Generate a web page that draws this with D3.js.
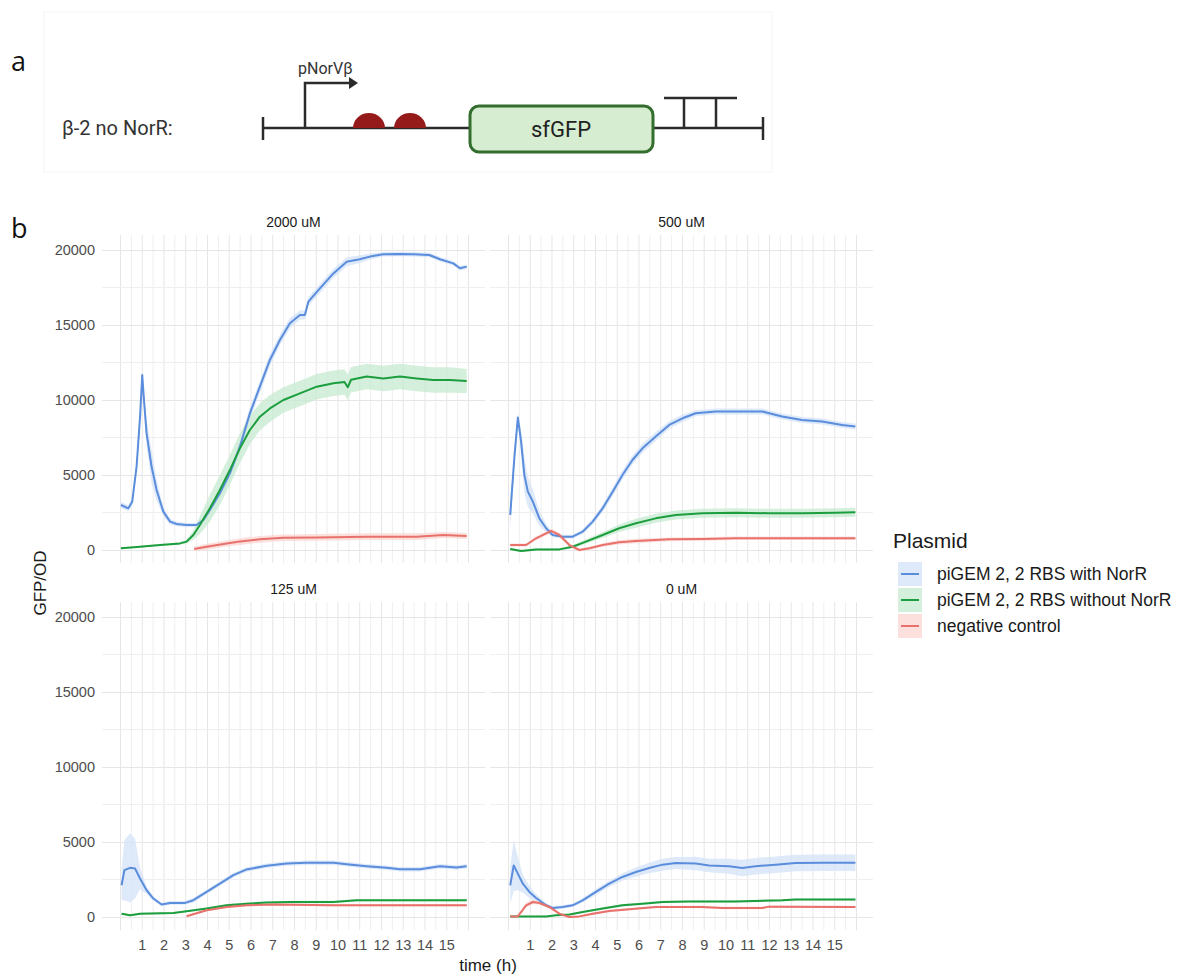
<!DOCTYPE html>
<html>
<head>
<meta charset="utf-8">
<script src="https://cdn.jsdelivr.net/npm/d3@7"></script>
<style>
  body { margin: 0; background: #fff; }
  svg text { font-family: "Liberation Sans", Arial, sans-serif; }
</style>
</head>
<body>
<div id="chart"></div>
<script>
// Panels (facets) and plasmid series
var panelNames = ["2000 uM", "500 uM", "125 uM", "0 uM"];
var plasmids = ["piGEM 2, 2 RBS with NorR", "piGEM 2, 2 RBS without NorR", "negative control"];
var lineColors = ["#5a8ddc", "#1c9e3e", "#e8716b"];
var fillColors = ["#d3e1f8", "#c6eacf", "#f9d6d3"];
var xTicks = [1, 2, 3, 4, 5, 6, 7, 8, 9, 10, 11, 12, 13, 14, 15];
var yTicks = [0, 5000, 10000, 15000, 20000];

// [time (h), mean GFP/OD, sd]
var withNorR_2000 = [[0.02,3000,200],[0.36,2780,200],[0.54,3220,300],[0.74,5560,400],[0.9,8890,500],[1.0,11660,400],[1.08,10000,600],[1.2,7780,900],[1.43,5560,1100],[1.66,4000,700],[1.97,2560,300],[2.28,1890,200],[2.58,1730,150],[3.04,1670,150],[3.5,1670,150],[3.81,2000,200],[4.11,2670,250],[4.57,3780,300],[5.03,5110,350],[5.49,6890,400],[5.95,9110,400],[6.41,10890,400],[6.87,12670,400],[7.33,14000,350],[7.79,15110,350],[8.25,15670,300],[8.48,15670,300],[8.64,16560,300],[9.17,17440,300],[9.79,18440,300],[10.4,19220,300],[11.0,19380,250],[11.47,19560,200],[12.08,19710,150],[12.85,19730,150],[13.46,19710,150],[14.2,19670,150],[14.69,19380,150],[15.3,19110,150],[15.61,18780,150],[15.92,18890,150]];
var withoutNorR_2000 = [[0.02,110,60],[0.9,220,60],[1.82,330,60],[2.74,440,80],[3.04,560,150],[3.35,1000,300],[3.65,1670,600],[4.11,2780,900],[4.57,4000,1000],[5.03,5330,1000],[5.49,6780,1000],[5.95,8000,950],[6.41,8890,900],[6.87,9440,900],[7.49,10000,850],[8.25,10440,850],[9.02,10890,850],[9.79,11110,850],[10.3,11200,850],[10.45,10850,850],[10.6,11350,850],[11.32,11560,850],[12.08,11440,850],[12.85,11560,850],[13.62,11440,850],[14.38,11330,850],[15.15,11330,850],[15.92,11270,800]];
var control_2000 = [[3.39,70,150],[3.96,220,200],[4.88,440,200],[5.49,560,220],[6.41,710,220],[7.49,820,220],[9.02,840,220],[11.32,890,220],[13.62,890,220],[14.84,1000,200],[15.92,930,200]];

var withNorR_500 = [[0.08,2340,1000],[0.28,6340,600],[0.43,8830,300],[0.58,7230,800],[0.73,5000,1200],[0.89,3890,1000],[1.12,3230,800],[1.42,2110,500],[1.73,1450,300],[2.03,1000,150],[2.49,890,120],[2.95,890,120],[3.41,1220,150],[3.87,1890,200],[4.33,2780,250],[4.79,3890,300],[5.24,5000,300],[5.7,6000,300],[6.16,6780,300],[6.77,7560,300],[7.39,8340,250],[8.0,8780,250],[8.61,9120,200],[9.53,9230,200],[10.44,9230,200],[11.67,9230,200],[12.58,8900,200],[13.5,8670,200],[14.42,8560,200],[15.34,8340,200],[15.95,8230,200]];
var withoutNorR_500 = [[0.08,70,80],[0.58,-70,80],[1.27,40,80],[2.34,40,80],[2.95,220,100],[3.56,560,150],[4.33,1000,200],[5.09,1450,250],[5.86,1780,300],[6.77,2110,300],[7.69,2340,300],[8.91,2450,300],[10.44,2490,300],[11.97,2450,300],[13.5,2450,300],[15.03,2490,300],[15.95,2510,300]];
var control_500 = [[0.08,330,100],[0.81,330,100],[1.27,780,120],[1.96,1270,150],[2.34,1000,150],[2.8,330,120],[3.26,0,100],[3.72,110,100],[4.33,330,120],[5.09,510,150],[5.86,600,150],[7.39,710,120],[8.91,730,120],[10.44,780,120],[13.5,780,120],[15.95,780,120]];

var withNorR_125 = [[0.05,2120,1000],[0.18,3120,2000],[0.44,3280,2300],[0.67,3230,2000],[0.9,2570,700],[1.2,1790,250],[1.51,1230,150],[1.89,830,120],[2.28,940,120],[2.97,940,120],[3.35,1120,150],[3.96,1670,150],[4.57,2230,150],[5.19,2790,150],[5.8,3170,150],[6.72,3410,150],[7.64,3570,150],[8.56,3610,150],[9.79,3610,150],[10.4,3520,150],[11.32,3390,150],[12.24,3280,150],[12.85,3190,150],[13.77,3190,150],[14.69,3390,150],[15.45,3300,150],[15.92,3390,150]];
var withoutNorR_125 = [[0.05,220,60],[0.44,110,60],[0.9,220,60],[2.43,270,60],[3.04,380,60],[3.96,560,80],[4.88,780,80],[5.8,890,80],[6.72,960,80],[7.79,1000,80],[9.79,1000,80],[10.86,1120,80],[12.85,1120,80],[15.92,1120,80]];
var control_125 = [[3.04,50,60],[3.96,450,80],[4.88,670,80],[5.8,780,80],[7.03,830,80],[9.79,780,80],[15.92,780,80]];

var withNorR_0 = [[0.08,2110,1200],[0.24,3440,1700],[0.43,2890,1100],[0.66,2220,600],[0.96,1670,400],[1.27,1270,250],[1.73,780,150],[2.03,600,120],[2.49,670,120],[2.95,780,120],[3.41,1110,150],[4.02,1670,200],[4.63,2220,200],[5.24,2670,250],[5.86,3000,300],[6.47,3270,350],[7.08,3490,400],[7.69,3600,400],[8.61,3560,450],[9.22,3440,450],[10.14,3380,500],[10.75,3270,550],[11.36,3380,550],[12.28,3490,550],[13.2,3600,550],[14.42,3620,550],[15.95,3620,550]];
var withoutNorR_0 = [[0.08,40,60],[1.73,40,60],[2.19,110,60],[2.8,160,60],[3.41,330,60],[4.33,560,80],[5.24,780,80],[6.16,890,80],[7.08,1000,80],[8.3,1040,80],[10.44,1040,80],[12.58,1110,80],[13.2,1160,80],[15.95,1160,80]];
var control_0 = [[0.08,40,60],[0.43,40,60],[0.81,780,150],[1.12,1000,150],[1.42,930,120],[1.88,670,100],[2.34,220,80],[2.8,0,60],[3.26,40,60],[3.87,220,80],[4.63,400,80],[5.55,510,80],[6.77,670,80],[8.91,670,80],[9.83,600,80],[11.67,600,80],[11.97,690,80],[15.95,670,80]];

var panelSeries = [
  [withNorR_2000, withoutNorR_2000, control_2000],
  [withNorR_500, withoutNorR_500, control_500],
  [withNorR_125, withoutNorR_125, control_125],
  [withNorR_0, withoutNorR_0, control_0]
];

var width = 1191, height = 976;
var svg = d3.select("#chart").append("svg")
    .attr("width", width)
    .attr("height", height);

// ---------- panel a: construct diagram ----------
var dia = svg.append("g");
dia.append("rect")
    .attr("x", 44).attr("y", 12).attr("width", 728).attr("height", 160)
    .attr("fill", "none").attr("stroke", "#f4f4f4");
svg.append("text").attr("x", 11).attr("y", 71)
    .style("font-family", "'Open Sans', sans-serif").style("font-size", "27px").attr("fill", "#111")
    .text("a");
dia.append("text").attr("x", 62).attr("y", 135)
    .style("font-family", "Roboto, sans-serif").style("font-size", "20px").attr("fill", "#333")
    .text("β-2 no NorR:");
dia.append("line").attr("x1", 263).attr("x2", 763).attr("y1", 128).attr("y2", 128)
    .attr("stroke", "#2b2b2b").attr("stroke-width", 2.5);
[263, 763].forEach(function(x) {
  dia.append("line").attr("x1", x).attr("x2", x).attr("y1", 117).attr("y2", 140)
      .attr("stroke", "#2b2b2b").attr("stroke-width", 2.5);
});
// promoter
dia.append("path").attr("d", "M305,128V83H350")
    .attr("fill", "none").attr("stroke", "#2b2b2b").attr("stroke-width", 2.5);
dia.append("path").attr("d", "M349,77L358,83L349,89Z").attr("fill", "#2b2b2b");
dia.append("text").attr("x", 298).attr("y", 74)
    .style("font-family", "Roboto, sans-serif").style("font-size", "16px").attr("fill", "#333")
    .text("pNorVβ");
// RBS
[369, 410].forEach(function(cx) {
  dia.append("path")
      .attr("d", "M" + (cx - 16) + ",128A16,15 0 0 1 " + (cx + 16) + ",128Z")
      .attr("fill", "#951b1b");
});
// CDS
dia.append("rect").attr("x", 470).attr("y", 106).attr("width", 183).attr("height", 46).attr("rx", 9)
    .attr("fill", "#d6edd1").attr("stroke", "#336e2e").attr("stroke-width", 3);
dia.append("text").attr("x", 561).attr("y", 137).attr("text-anchor", "middle")
    .style("font-family", "Roboto, sans-serif").style("font-size", "22px").attr("fill", "#222")
    .text("sfGFP");
// terminator
dia.append("path").attr("d", "M684,128V98M716,128V98M664,98H737")
    .attr("fill", "none").attr("stroke", "#2b2b2b").attr("stroke-width", 2.5);

// ---------- panel b: faceted time courses ----------
svg.append("text").attr("x", 11).attr("y", 238)
    .style("font-family", "'Open Sans', sans-serif").style("font-size", "27px").attr("fill", "#111")
    .text("b");

var pw = 383, ph = 328;
var colX = [102, 490], rowY = [235, 602];

var x = d3.scaleLinear().domain([-0.85, 16.76]).range([0, pw]);
var y = d3.scaleLinear().domain([-867, 21000]).range([ph, 0]);

var area = d3.area()
    .x(function(d) { return x(d[0]); })
    .y0(function(d) { return y(d[1] - d[2]); })
    .y1(function(d) { return y(d[1] + d[2]); });
var line = d3.line()
    .x(function(d) { return x(d[0]); })
    .y(function(d) { return y(d[1]); });

panelNames.forEach(function(name, i) {
  var col = i % 2, row = Math.floor(i / 2);
  var g = svg.append("g")
      .attr("transform", "translate(" + colX[col] + "," + rowY[row] + ")");

  // grid
  var vLines = d3.range(0, 16.01, 0.5);
  g.selectAll(".vgrid").data(vLines).enter().append("line")
      .attr("x1", function(d) { return x(d); }).attr("x2", function(d) { return x(d); })
      .attr("y1", 0).attr("y2", ph)
      .attr("stroke", function(d) { return d % 1 === 0 ? "#e6e6e6" : "#efefef"; })
      .attr("stroke-width", 1);
  var hLines = d3.range(0, 20001, 2500);
  g.selectAll(".hgrid").data(hLines).enter().append("line")
      .attr("x1", 0).attr("x2", pw)
      .attr("y1", function(d) { return Math.round(y(d)) + 0.5; })
      .attr("y2", function(d) { return Math.round(y(d)) + 0.5; })
      .attr("stroke", function(d) { return d % 5000 === 0 ? "#e6e6e6" : "#efefef"; })
      .attr("stroke-width", 1);

  // ribbons then lines
  var series = panelSeries[i];
  series.forEach(function(s, k) {
    g.append("path").datum(s).attr("d", area)
        .attr("fill", fillColors[k]).attr("fill-opacity", 0.75);
  });
  series.forEach(function(s, k) {
    g.append("path").datum(s).attr("d", line)
        .attr("fill", "none").attr("stroke", lineColors[k]).attr("stroke-width", 2)
        .attr("stroke-linejoin", "round");
  });

  // strip title
  g.append("text").attr("x", pw / 2).attr("y", -8).attr("text-anchor", "middle")
      .style("font-size", "14px").attr("fill", "#1a1a1a").text(name);

  // y tick labels on left column
  if (col === 0) {
    g.selectAll(".ytick").data(yTicks).enter().append("text")
        .attr("x", -7).attr("y", function(d) { return y(d); }).attr("dy", "0.35em")
        .attr("text-anchor", "end").style("font-size", "14.5px").attr("fill", "#4d4d4d")
        .text(function(d) { return d; });
  }
  // x tick labels on bottom row
  if (row === 1) {
    g.selectAll(".xtick").data(xTicks).enter().append("text")
        .attr("x", function(d) { return x(d); }).attr("y", ph + 20)
        .attr("text-anchor", "middle").style("font-size", "14.5px").attr("fill", "#4d4d4d")
        .text(function(d) { return d; });
  }
});

// axis titles
svg.append("text").attr("transform", "translate(46,583)rotate(-90)")
    .attr("text-anchor", "middle").style("font-size", "17px").attr("fill", "#1a1a1a")
    .text("GFP/OD");
svg.append("text").attr("x", 488).attr("y", 971).attr("text-anchor", "middle")
    .style("font-size", "17px").attr("fill", "#1a1a1a")
    .text("time (h)");

// legend
var lg = svg.append("g").attr("transform", "translate(893,0)");
lg.append("text").attr("x", 0).attr("y", 548)
    .style("font-size", "21px").attr("fill", "#1a1a1a").text("Plasmid");
plasmids.forEach(function(p, k) {
  var cy = 574 + k * 26;
  lg.append("rect").attr("x", 5).attr("y", cy - 12).attr("width", 24).attr("height", 24)
      .attr("fill", fillColors[k]).attr("fill-opacity", 0.75);
  lg.append("line").attr("x1", 8).attr("x2", 26).attr("y1", cy).attr("y2", cy)
      .attr("stroke", lineColors[k]).attr("stroke-width", 2);
  lg.append("text").attr("x", 44).attr("y", cy).attr("dy", "0.35em")
      .style("font-size", "17.5px").attr("fill", "#1a1a1a").text(p);
});
</script>
</body>
</html>
